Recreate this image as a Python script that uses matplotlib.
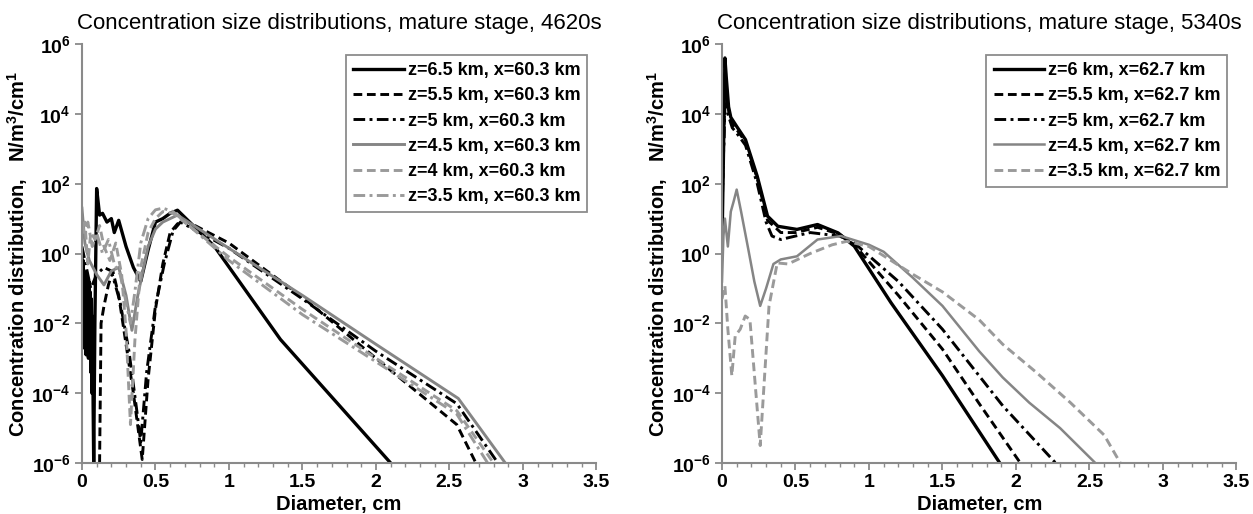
import numpy as np
import matplotlib
matplotlib.use('Agg')
from matplotlib import pyplot as plt
from matplotlib.ticker import FixedLocator, MultipleLocator, FuncFormatter

plt.rcParams['font.family'] = ['Liberation Sans', 'DejaVu Sans']
plt.rcParams['mathtext.fontset'] = 'custom'
plt.rcParams['mathtext.rm'] = 'Liberation Sans'
plt.rcParams['mathtext.bf'] = 'Liberation Sans:bold'

# values, stored as log10(N/m^3/cm)
# ---- left panel, 4620 s ----
xa1 = [0.0, 0.004, 0.008, 0.012, 0.016, 0.02, 0.024, 0.028, 0.032, 0.036, 0.04, 0.044, 0.048, 0.052,
       0.056, 0.06, 0.064, 0.068, 0.072, 0.076, 0.08, 0.088, 0.1, 0.12, 0.14, 0.17, 0.2, 0.22, 0.25,
       0.3, 0.35, 0.4, 0.45, 0.5, 0.55, 0.6, 0.65, 0.9, 1.35, 2.1]
la1 = [0.0, -2.3, -0.2, -2.7, -0.5, -2.2, -0.7, -2.9, -0.6, -2.4, -0.9, -3.0, -0.8, -2.6,
       -1.1, -3.4, -1.3, -4.0, -1.8, -4.3, -6.0, -2.0, 1.86, 1.1, 1.15, 0.9, 1.0, 0.6, 0.95,
       0.2, -0.4, -0.8, 0.1, 0.9, 1.0, 1.15, 1.24, 0.21, -2.46, -6.0]
xa2 = [0.12, 0.13, 0.15, 0.18, 0.21, 0.25, 0.3, 0.35, 0.41, 0.45, 0.5, 0.55, 0.6, 0.65, 0.7, 1.0, 1.5,
       2.0, 2.55, 2.68]
la2 = [-6.0, -2.0, -1.5, -0.9, -0.5, -1.2, -2.6, -4.0, -5.9, -3.6, -1.6, -0.3, 0.6, 0.85, 0.95, 0.3, -1.25,
       -3.0, -4.9, -6.0]
xa3 = [0.0, 0.03, 0.06, 0.1, 0.15, 0.2, 0.26, 0.32, 0.37, 0.4, 0.44, 0.5, 0.56, 0.62, 0.67, 1.0, 1.5,
       2.0, 2.55, 2.83]
la3 = [0.2, -0.4, -1.0, -0.6, -0.4, -0.5, -1.4, -2.8, -4.4, -5.4, -3.4, -1.5, -0.3, 0.65, 0.9, 0.15, -1.3,
       -2.8, -4.3, -6.0]
xa4 = [0.0, 0.02, 0.05, 0.1, 0.15, 0.2, 0.25, 0.3, 0.34, 0.38, 0.45, 0.5, 0.55, 0.6, 0.65, 1.0, 1.5,
       2.0, 2.56, 2.88]
la4 = [1.3, 0.3, -0.2, -0.6, -0.9, -0.5, -0.4, -1.2, -2.2, -1.2, 0.2, 0.7, 0.9, 1.0, 1.1, 0.15, -1.2,
       -2.6, -4.15, -6.0]
xa5 = [0.0, 0.02, 0.04, 0.06, 0.09, 0.12, 0.15, 0.19, 0.23, 0.27, 0.3, 0.33, 0.36, 0.4, 0.45, 0.5,
       0.55, 0.62, 1.0, 1.5, 2.0, 2.55, 2.8]
la5 = [0.8, 0.9, -0.3, 0.6, 0.4, 0.8, 0.2, -0.2, 0.3, -0.6, -2.2, -4.9, -2.5, -0.4, 0.6, 1.0,
       1.2, 1.15, -0.1, -1.6, -3.0, -4.5, -6.0]
xa6 = [0.0, 0.02, 0.04, 0.07, 0.1, 0.14, 0.18, 0.22, 0.26, 0.3, 0.33, 0.36, 0.4, 0.45, 0.5, 0.55,
       0.62, 1.0, 1.5, 2.0, 2.55, 2.76]
la6 = [0.9, 0.5, 0.9, 0.2, 0.6, 0.0, 0.4, -0.3, -0.6, -1.4, -2.0, -1.1, 0.3, 1.0, 1.25, 1.3,
       1.2, -0.2, -1.75, -3.1, -4.6, -6.0]
labels_a = ['z=6.5 km, x=60.3 km', 'z=5.5 km, x=60.3 km', 'z=5 km, x=60.3 km',
            'z=4.5 km, x=60.3 km', 'z=4 km, x=60.3 km', 'z=3.5 km, x=60.3 km']

# ---- right panel, 5340 s ----
xb1 = [0.0, 0.01, 0.02, 0.03, 0.045, 0.06, 0.1, 0.16, 0.24, 0.31, 0.38, 0.51, 0.65, 0.79, 0.9, 1.15,
       1.5, 1.89]
lb1 = [0.2, 2.8, 5.6, 5.0, 4.2, 3.9, 3.64, 3.26, 2.21, 1.07, 0.78, 0.69, 0.83, 0.59, 0.21, -1.41,
       -3.5, -6.0]
xb2 = [0.0, 0.012, 0.022, 0.035, 0.05, 0.07, 0.1, 0.16, 0.24, 0.31, 0.4, 0.5, 0.6, 0.65, 0.8, 0.9,
       1.2, 1.5, 1.75, 2.03]
lb2 = [1.0, 3.2, 5.3, 4.5, 3.9, 3.7, 3.55, 3.2, 2.15, 0.95, 0.6, 0.6, 0.7, 0.75, 0.55, 0.25,
       -1.2, -2.74, -4.3, -6.0]
xb3 = [0.0, 0.015, 0.025, 0.04, 0.07, 0.1, 0.16, 0.24, 0.3, 0.34, 0.4, 0.5, 0.6, 0.7, 0.8, 0.9,
       1.2, 1.5, 1.91, 2.27]
lb3 = [1.3, 3.5, 4.9, 4.0, 3.6, 3.45, 3.1, 2.0, 0.9, 0.5, 0.4, 0.5, 0.6, 0.55, 0.5, 0.3,
       -0.8, -2.17, -4.36, -6.0]
xb4 = [0.0, 0.01, 0.02, 0.04, 0.06, 0.08, 0.1, 0.13, 0.18, 0.22, 0.26, 0.3, 0.35, 0.4, 0.51, 0.65,
       0.81, 1.0, 1.1, 1.3, 1.5, 1.75, 1.91, 2.09, 2.3, 2.54]
lb4 = [-0.8, 0.5, 1.0, 0.2, 1.2, 1.5, 1.83, 1.2, 0.1, -0.8, -1.5, -1.0, -0.3, -0.17, -0.08, 0.4,
       0.5, 0.25, 0.05, -0.7, -1.5, -2.8, -3.55, -4.27, -5.0, -6.0]
xb5 = [0.0, 0.02, 0.04, 0.067, 0.09, 0.124, 0.158, 0.19, 0.26, 0.32, 0.376, 0.45, 0.6, 0.75, 0.85,
       1.0, 1.3, 1.5, 1.75, 1.91, 2.14, 2.37, 2.6, 2.71]
lb5 = [-1.3, -0.93, -2.17, -3.5, -2.36, -2.17, -1.79, -1.89, -5.5, -1.5, -0.27, -0.3, 0.0, 0.25, 0.35,
       0.2, -0.6, -1.1, -1.9, -2.6, -3.41, -4.27, -5.2, -6.0]
labels_b = ['z=6 km, x=62.7 km', 'z=5.5 km, x=62.7 km', 'z=5 km, x=62.7 km',
            'z=4.5 km, x=62.7 km', 'z=3.5 km, x=62.7 km']

titles = ['Concentration size distributions, mature stage, 4620s',
          'Concentration size distributions, mature stage, 5340s']
xtick_vals = [0, 0.5, 1, 1.5, 2, 2.5, 3, 3.5]
xtick_labels = ['0', '0.5', '1', '1.5', '2', '2.5', '3', '3.5']
ytick_exps = [-6, -4, -2, 0, 2, 4, 6]

black = '#000000'
grey = '#858585'
lgrey = '#9a9a9a'
styles_a = [(black, '-', 2.4), (black, (0, (3, 1.6)), 2.1), (black, (0, (4, 1.5, 1, 1.5)), 2.1),
            (grey, '-', 2.1), (lgrey, (0, (3, 1.6)), 2.1), (lgrey, (0, (4, 1.5, 1, 1.5)), 2.1)]
styles_b = [(black, '-', 2.4), (black, (0, (3, 1.6)), 2.1), (black, (0, (4, 1.5, 1, 1.5)), 2.1),
            (grey, '-', 1.8), (lgrey, (0, (3, 1.6)), 2.1)]

fig = plt.figure(figsize=(12.53, 5.14), dpi=100)
ax1 = fig.add_axes([0.0654, 0.0992, 0.4106, 0.8152])
ax2 = fig.add_axes([0.5762, 0.0992, 0.4106, 0.8152])

panels = [(ax1, [xa1, xa2, xa3, xa4, xa5, xa6], [la1, la2, la3, la4, la5, la6], labels_a, styles_a),
          (ax2, [xb1, xb2, xb3, xb4, xb5], [lb1, lb2, lb3, lb4, lb5], labels_b, styles_b)]

for k, (ax, xs, ls, labs, sty) in enumerate(panels):
    for x, l, lab, (c, ls_, lw) in zip(xs, ls, labs, sty):
        ax.plot(x, np.power(10.0, l), color=c, linestyle=ls_, lw=lw, label=lab)
    ax.set_yscale('log')
    ax.set_xlim(0, 3.5)
    ax.set_ylim(1e-6, 1e6)
    ax.set_xticks(xtick_vals)
    ax.set_xticklabels(xtick_labels)
    ax.xaxis.set_minor_locator(MultipleLocator(0.1))
    ax.yaxis.set_major_locator(FixedLocator([10.0 ** e for e in ytick_exps]))
    ax.yaxis.set_minor_locator(FixedLocator([]))
    ax.yaxis.set_major_formatter(FuncFormatter(lambda v, p: r'$\mathbf{10^{%d}}$' % round(np.log10(v))))
    for s in ['top', 'right']:
        ax.spines[s].set_visible(False)
    for s in ['left', 'bottom']:
        ax.spines[s].set_color('#8a8a8a')
        ax.spines[s].set_linewidth(1.5)
    ax.tick_params(axis='both', which='major', direction='out', length=5, width=1.3, color='#8a8a8a',
                   labelsize=14, pad=3)
    ax.tick_params(axis='x', which='minor', direction='out', length=3, width=1.0, color='#8a8a8a')
    for t in ax.get_xticklabels():
        t.set_fontweight('bold')
    ax.set_title(titles[k], fontsize=16, pad=11)
    ax.set_xlabel('Diameter, cm', fontsize=14.5, fontweight='bold', labelpad=3)
    ax.set_ylabel(r'Concentration distribution,   N/m$^\mathbf{3}$/cm$^\mathbf{1}$', fontsize=14.5,
                  fontweight='bold', labelpad=1)
    leg = ax.legend(loc='upper right', bbox_to_anchor=(1.0, 0.995), handlelength=2.8,
                    handletextpad=0.2, labelspacing=0.45, borderpad=0.4, fancybox=False,
                    prop={'weight': 'bold', 'size': 13})
    leg.get_frame().set_edgecolor('#707070')
    leg.get_frame().set_linewidth(1.3)

fig.savefig('out.png', dpi=100)
